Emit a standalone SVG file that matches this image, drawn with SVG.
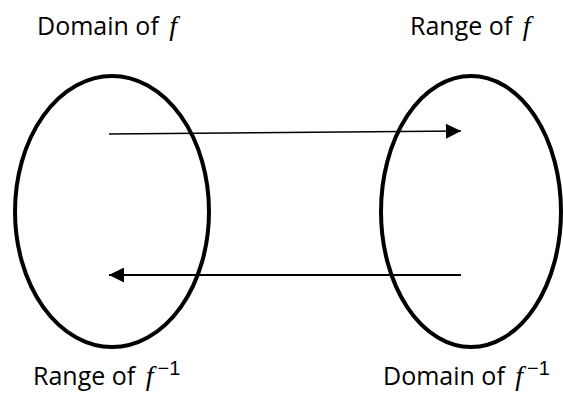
<svg xmlns="http://www.w3.org/2000/svg" width="563" height="397" viewBox="0 0 563 397">
<style>
.set{fill:none;stroke:#000;stroke-width:4}
.lbl{font-family:"Open Sans","Liberation Sans",sans-serif;font-size:25px;fill:#000}
.fn{font-family:"Liberation Serif","DejaVu Serif",serif;font-style:italic;font-size:28px}
.sup{font-family:"Liberation Sans",sans-serif;font-size:20px}
.arr{stroke:#000;fill:none}
</style>
<defs>
<marker id="ah" viewBox="0 0 10 10" refX="10" refY="5" markerWidth="16" markerHeight="15" markerUnits="userSpaceOnUse" orient="auto">
<path d="M0,0 L10,5 L0,10 Z" fill="#000"/>
</marker>
</defs>
<g id="domain-f">
<ellipse class="set" cx="112" cy="211.5" rx="97" ry="135.5"/>
<text class="lbl" x="37" y="35">Domain of <tspan class="fn" dx="4">f</tspan></text>
<text class="lbl" x="33" y="385">Range of <tspan class="fn" dx="4">f</tspan><tspan class="sup" dx="4" dy="-10">−1</tspan></text>
</g>
<g id="range-f">
<ellipse class="set" cx="471" cy="211.5" rx="90" ry="135.5"/>
<text class="lbl" x="410" y="35">Range of <tspan class="fn" dx="4">f</tspan></text>
<text class="lbl" x="383" y="385">Domain of <tspan class="fn" dx="4">f</tspan><tspan class="sup" dx="4" dy="-10">−1</tspan></text>
</g>
<g id="connectors">
<line class="arr" x1="109" y1="134" x2="461" y2="131" stroke-width="1.6" marker-end="url(#ah)"/>
<line class="arr" x1="461" y1="275" x2="109" y2="275" stroke-width="2" marker-end="url(#ah)"/>
</g>
</svg>
